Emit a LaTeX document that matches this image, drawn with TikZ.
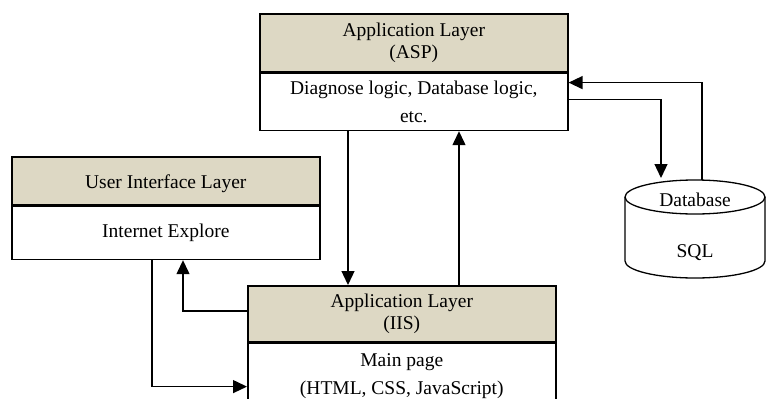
\documentclass[tikz,border=0pt]{standalone}
\usepackage{fontspec}
\setmainfont{Liberation Serif}
\usetikzlibrary{arrows.meta,positioning}

\definecolor{headtan}{RGB}{221,216,196}

\tikzset{
    layerhead/.style={draw, line width=1.6pt, fill=headtan, anchor=north west,
        minimum width=308pt, align=center, inner sep=0pt,
        font=\fontsize{19.5}{22}\selectfont},
    layerbody/.style={draw, line width=1.6pt, fill=white, below=0pt of #1,
        minimum width=308pt, align=center, inner sep=0pt,
        font=\fontsize{19.5}{28}\selectfont},
    conn/.style={line width=1.3pt, -{Triangle[length=14pt,width=13pt]}},
    dbtext/.style={font=\fontsize{19.5}{22}\selectfont, inner sep=0pt}
}

\begin{document}
\begin{tikzpicture}[x=1pt,y=-1pt]
    \clip (0,0) rectangle (766,399);
    % application layer (ASP)
    \node[layerhead, minimum height=58pt] (asphead) at (259,13) {Application Layer\\(ASP)};
    \node[layerbody=asphead, minimum height=57pt] (aspbody) {Diagnose logic, Database logic,\\etc.};
    % user interface layer
    \node[layerhead, minimum height=48pt, text height=19pt] (uihead) at (11,156) {User Interface Layer};
    \node[layerbody=uihead, minimum height=53pt] (uibody) {Internet Explore};
    % application layer (IIS)
    \node[layerhead, minimum height=56pt] (iishead) at (247,285) {Application Layer\\(IIS)};
    \node[layerbody=iishead, minimum height=68pt, text depth=6pt] (iisbody) {Main page\\(HTML, CSS, JavaScript)};

    % database
    \draw[line width=1.3pt, fill=white] (625,197) -- (625,261)
        arc[start angle=180, end angle=360, x radius=70pt, y radius=17pt] -- (765,197);
    \draw[line width=1.3pt] (695,197) ellipse[x radius=70pt, y radius=17pt];
    \node[dbtext] (dbname) at (695,200) {Database};
    \node[dbtext] (dbsql) at (695,253) {SQL};
    \coordinate (dbin) at (661,178);
    \coordinate (dbout) at (702,180);

    % connectors
    \draw[conn] ([xshift=89pt]aspbody.south west) -- ([xshift=101pt]iishead.north west);
    \draw[conn] ([xshift=212pt]iishead.north west) -- ([xshift=200pt]aspbody.south west);
    \draw[conn] ([yshift=-27pt]aspbody.north east) -| (dbin);
    \draw[conn] (dbout) |- ([yshift=-10pt]aspbody.north east);
    \draw[conn] ([xshift=141pt]uibody.south west) |- ([yshift=-44pt]iisbody.north west);
    \draw[conn] ([yshift=-26pt]iishead.north west) -| ([xshift=172pt]uibody.south west);
\end{tikzpicture}
\end{document}
